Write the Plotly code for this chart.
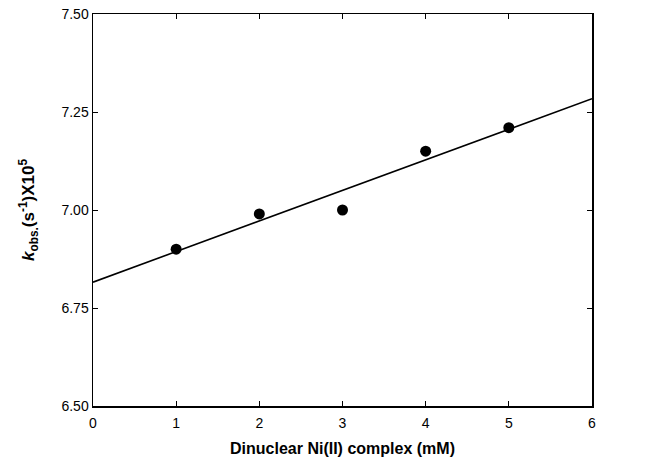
import numpy as np
import plotly.graph_objects as go

conc_mM = [1, 2, 3, 4, 5]
kobs_x1e5 = [6.90, 6.99, 7.00, 7.15, 7.21]
x_ticks = [0, 1, 2, 3, 4, 5, 6]
y_ticks = [6.50, 6.75, 7.00, 7.25, 7.50]
y_tick_labels = ["6.50", "6.75", "7.00", "7.25", "7.50"]

slope, intercept = np.polyfit(conc_mM, kobs_x1e5, 1)
fit_x = [0, 6]
fit_y = [intercept + slope * v for v in fit_x]

FONT = "Liberation Sans, Arial, sans-serif"

fig = go.Figure()
fig.add_trace(go.Scatter(x=fit_x, y=fit_y, mode="lines",
                         line=dict(color="black", width=1.6), showlegend=False))
fig.add_trace(go.Scatter(x=conc_mM, y=kobs_x1e5, mode="markers",
                         marker=dict(color="black", size=11), showlegend=False))

axis_common = dict(showline=True, linecolor="black", linewidth=1.5, mirror="ticks",
                   ticks="inside", ticklen=5, tickwidth=1, tickcolor="black",
                   showgrid=False, zeroline=False, automargin=False,
                   tickfont=dict(family=FONT, size=14, color="black"))

fig.update_xaxes(range=[0, 6], tickvals=x_ticks, ticklabelstandoff=4,
                 title=dict(text="<b>Dinuclear Ni(II) complex (mM)</b>",
                            font=dict(family=FONT, size=16, color="black"),
                            standoff=12),
                 **axis_common)
fig.update_yaxes(range=[6.5, 7.5], tickvals=y_ticks, ticktext=y_tick_labels,
                 title=dict(text="<b><i>k</i><sub>obs.</sub>(s<sup>-1</sup>)X10<sup>5</sup></b>",
                            font=dict(family=FONT, size=17, color="black"),
                            standoff=22),
                 **axis_common)

fig.update_layout(width=665, height=470, plot_bgcolor="white", paper_bgcolor="white",
                  margin=dict(l=93, r=73, t=14, b=64), hovermode=False)

fig.write_html("out.html", config={"displayModeBar": False, "staticPlot": True},
               post_script="document.body.style.margin='0';document.body.style.overflow='hidden';")
